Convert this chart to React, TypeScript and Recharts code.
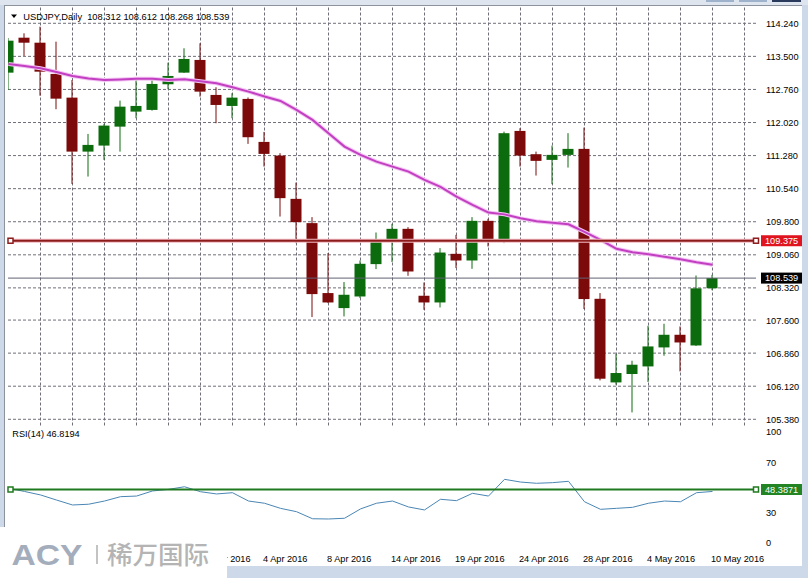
import React from "react";
import { ComposedChart, Bar, Line, XAxis, YAxis, ReferenceLine } from "recharts";

const FONT = "'Liberation Sans', Arial, sans-serif";
const BULL = "#0c6b0c";
const BEAR = "#7c0a0a";
const GRID = "#6f6f7a";

// daily bars, USDJPY
const dates = [
  "16 Mar 2016", "17 Mar 2016", "18 Mar 2016", "20 Mar 2016", "21 Mar 2016", "22 Mar 2016",
  "23 Mar 2016", "24 Mar 2016", "25 Mar 2016", "27 Mar 2016", "28 Mar 2016", "29 Mar 2016",
  "30 Mar 2016", "31 Mar 2016", "1 Apr 2016", "3 Apr 2016", "4 Apr 2016", "5 Apr 2016",
  "6 Apr 2016", "7 Apr 2016", "8 Apr 2016", "11 Apr 2016", "12 Apr 2016", "13 Apr 2016",
  "14 Apr 2016", "15 Apr 2016", "17 Apr 2016", "18 Apr 2016", "19 Apr 2016", "20 Apr 2016",
  "21 Apr 2016", "22 Apr 2016", "24 Apr 2016", "25 Apr 2016", "26 Apr 2016", "27 Apr 2016",
  "28 Apr 2016", "29 Apr 2016", "2 May 2016", "3 May 2016", "4 May 2016", "5 May 2016",
  "6 May 2016", "9 May 2016", "10 May 2016",
];

const open = [
  113.136, 113.918, 113.806, 113.107, 112.577, 111.369, 111.504, 111.928, 112.264, 112.302,
  112.876, 113.136, 113.42, 112.637, 112.391, 112.548, 111.586, 111.28, 110.312, 109.769,
  108.204, 107.868, 108.128, 108.852, 109.38, 109.641, 108.144, 107.994, 109.082, 108.933,
  109.82, 109.357, 111.832, 111.311, 111.184, 111.296, 111.43, 108.076, 106.205, 106.393,
  106.563, 106.988, 107.271, 107.032, 108.312,
];
const high = [
  113.911, 114.016, 114.164, 113.829, 112.972, 111.765, 111.989, 112.51, 113.01, 112.972,
  113.359, 113.681, 113.793, 112.809, 112.675, 112.58, 111.81, 111.334, 110.676, 109.903,
  109.098, 108.45, 108.933, 109.559, 109.753, 109.679, 108.441, 109.21, 109.507, 109.903,
  109.865, 111.816, 111.893, 111.369, 111.504, 111.781, 111.906, 108.204, 106.84, 106.69,
  107.473, 107.517, 107.457, 108.597, 108.612,
];
const low = [
  112.749, 113.509, 112.621, 112.317, 110.647, 110.811, 111.184, 111.369, 112.116, 112.286,
  112.764, 113.13, 112.599, 112.004, 112.116, 111.542, 111.034, 109.916, 109.322, 107.667,
  107.98, 107.681, 108.092, 108.74, 108.897, 108.591, 107.83, 107.882, 108.763, 108.747,
  109.246, 109.322, 111.034, 110.833, 110.641, 111.012, 107.846, 106.25, 106.154, 105.534,
  106.214, 106.802, 106.451, 107.02, 108.268,
];
const close = [
  113.851, 113.806, 113.158, 112.554, 111.369, 111.519, 111.951, 112.375, 112.391, 112.883,
  113.062, 113.442, 112.711, 112.413, 112.577, 111.691, 111.318, 110.328, 109.791, 108.181,
  107.994, 108.166, 108.859, 109.411, 109.641, 108.687, 107.994, 109.111, 108.933, 109.82,
  109.357, 111.781, 111.28, 111.162, 111.296, 111.43, 108.07, 106.288, 106.415, 106.601,
  107.01, 107.271, 107.099, 108.31, 108.539,
];

// moving average (magenta)
const maValues = [
  113.33, 113.285, 113.234, 113.151, 113.062, 113.006, 112.972, 112.984, 113.001, 113.001,
  112.972, 112.988, 112.943, 112.899, 112.809, 112.711, 112.603, 112.503, 112.302, 112.078,
  111.781, 111.481, 111.296, 111.146, 111.034, 110.922, 110.737, 110.58, 110.363, 110.178,
  110.006, 109.965, 109.876, 109.809, 109.775, 109.742, 109.574, 109.395, 109.194, 109.116,
  109.071, 109.015, 108.959, 108.892, 108.836,
];

// RSI(14)
const rsiValues = [
  49.4, 46.8, 44.0, 39.9, 35.9, 36.5, 39.1, 42.6, 43.1, 47.2,
  48.5, 50.6, 46.6, 44.8, 45.8, 39.1, 37.3, 33.2, 30.5, 24.8,
  24.6, 25.2, 32.7, 37.3, 39.1, 34.3, 31.9, 40.5, 39.4, 45.3,
  43.1, 56.6, 54.4, 53.4, 53.9, 55.0, 38.5, 32.4, 33.2, 34.0,
  37.3, 39.1, 38.5, 45.8, 46.82,
];

const priceTicks = [105.38, 106.12, 106.86, 107.6, 108.32, 109.06, 109.8, 110.54, 111.28, 112.02, 112.76, 113.5, 114.24];
const rsiTicks = [0, 30, 70, 100];
const rsiGridTicks = [0, 30, 70];
const dateTicks = [12, 16, 20, 24, 28, 32, 36, 40, 44];
const gridTicks = [2, 4, 6, 8, 10, 12, 14, 16, 18, 20, 22, 24, 26, 28, 30, 32, 34, 36, 38, 40, 42, 44, 46];

const resistanceLevel = 109.375;
const lastPrice = 108.539;
const rsiLevel = 48.3871;
const rsiLabel = "RSI(14) 46.8194";

const xDomain: [number, number] = [-0.03125, 46.71875];
const priceDomain: [number, number] = [105.241, 114.627];
const rsiDomain: [number, number] = [0, 100];

const data = dates.map((date, i) => ({
  i,
  date,
  open: open[i],
  high: high[i],
  low: low[i],
  close: close[i],
  range: [low[i], high[i]],
  ma: maValues[i],
  rsi: rsiValues[i],
}));

const Candle = (props: any) => {
  const { x, y, width, height, payload } = props;
  if (payload == null) return null;
  const top = Math.min(y, y + height);
  const h = Math.abs(height);
  const span = payload.high - payload.low || 1;
  const toY = (v: number) => top + ((payload.high - v) / span) * h;
  const up = payload.close >= payload.open;
  const color = up ? BULL : BEAR;
  const cx = x + width / 2;
  const bTop = toY(Math.max(payload.open, payload.close));
  const bBot = toY(Math.min(payload.open, payload.close));
  return (
    <g>
      <line x1={cx} x2={cx} y1={top} y2={top + h} stroke={color} strokeWidth={1} />
      <rect x={x} y={bTop} width={width} height={Math.max(1, bBot - bTop)} fill={color} />
    </g>
  );
};

const PriceTick = (props: any) => {
  const { x, y, payload } = props;
  return (
    <text x={x + 10} y={y + 3.6} fontSize={9.2} fontFamily={FONT} fill="#000">
      {Number(payload.value).toFixed(3)}
    </text>
  );
};

const RsiTick = (props: any) => {
  const { x, y, payload } = props;
  const v = payload.value;
  const shift = v === 100 ? 9.6 : v === 0 ? -3.4 : 3.2;
  return (
    <text x={x + 10} y={y + shift} fontSize={9.2} fontFamily={FONT} fill="#000">
      {v}
    </text>
  );
};

const DateTick = (props: any) => {
  const { x, y, payload } = props;
  return (
    <text x={x - 1.5} y={y + 12} fontSize={9.2} fontFamily={FONT} fill="#000">
      {dates[payload.value]}
    </text>
  );
};

const LevelTag = (props: any) => {
  const { viewBox, text, fill, marker } = props;
  if (!viewBox) return null;
  const { x, y, width } = viewBox;
  return (
    <g>
      {marker && <rect x={x} y={y - 2.5} width={5} height={5} fill="#fff" stroke={marker} strokeWidth={1.5} />}
      {marker && <rect x={x + width - 2.5} y={y - 2.5} width={5} height={5} fill="#fff" stroke={marker} strokeWidth={1.5} />}
      <rect x={x + width + 5} y={y - 5.5} width={41} height={11} fill={fill} />
      <text x={x + width + 9} y={y + 3.4} fontSize={9.2} fontFamily={FONT} fill="#fff">
        {text}
      </text>
    </g>
  );
};

const layer: React.CSSProperties = { position: "absolute", left: 0, top: 0 };
const mainMargin = { top: 6, right: 0, bottom: 152.5, left: 8 };
const rsiMargin = { top: 425.5, right: 0, bottom: 8.5, left: 8 };

export default function App() {
  const header = `USDJPY,Daily  ${open[44].toFixed(3)} ${high[44].toFixed(3)} ${low[44].toFixed(3)} ${close[44].toFixed(3)}`;
  return (
    <div style={{ position: "fixed", left: 0, top: 0, width: 808, height: 578, background: "#cdd8e8", overflow: "hidden" }}>
      <div style={{ position: "absolute", left: 0, top: 0, width: 808, height: 5, background: "#dfe5ee" }} />
      <div style={{ position: "absolute", left: 706, top: 0, width: 28, height: 2, background: "#9fb2cc" }} />
      <div style={{ position: "absolute", left: 739, top: 0, width: 28, height: 2, background: "#9fb2cc" }} />
      <div style={{ position: "absolute", left: 772, top: 0, width: 29, height: 2, background: "#2a3a5c" }} />
      <div
        style={{
          position: "absolute", left: 4, top: 5, width: 798, height: 561, background: "#fff",
          borderLeft: "1px solid #8d939c", borderTop: "1px solid #8d939c", boxSizing: "border-box",
        }}
      />

      {/* grid behind the price panel */}
      <div style={layer}>
        <ComposedChart width={808} height={578} data={data} margin={mainMargin}>
          <XAxis type="number" dataKey="i" domain={xDomain} hide allowDataOverflow />
          <YAxis orientation="right" type="number" domain={priceDomain} width={52} allowDataOverflow tick={false} axisLine={false} tickLine={false} />
          {priceTicks.map((t) => (
            <ReferenceLine key={`h${t}`} y={t} stroke={GRID} strokeDasharray="3 2" />
          ))}
          {gridTicks.map((t) => (
            <ReferenceLine key={`v${t}`} x={t} stroke={GRID} strokeDasharray="3 2" />
          ))}
        </ComposedChart>
      </div>

      {/* grid behind the RSI panel */}
      <div style={layer}>
        <ComposedChart width={808} height={578} data={data} margin={rsiMargin}>
          <XAxis type="number" dataKey="i" domain={xDomain} height={20} allowDataOverflow tick={false} axisLine={false} tickLine={false} />
          <YAxis orientation="right" type="number" domain={rsiDomain} width={52} tick={false} axisLine={false} tickLine={false} />
          {rsiGridTicks.map((t) => (
            <ReferenceLine key={`h${t}`} y={t} stroke={GRID} strokeDasharray="3 2" />
          ))}
          {gridTicks.map((t) => (
            <ReferenceLine key={`v${t}`} x={t} stroke={GRID} strokeDasharray="3 2" />
          ))}
        </ComposedChart>
      </div>

      {/* price panel */}
      <div style={layer}>
        <ComposedChart width={808} height={578} data={data} margin={mainMargin}>
          <XAxis type="number" dataKey="i" domain={xDomain} hide allowDataOverflow />
          <YAxis
            orientation="right" type="number" domain={priceDomain} ticks={priceTicks} width={52}
            allowDataOverflow axisLine={false} tickLine={false} tickSize={0} tickMargin={0} tick={<PriceTick />}
          />
          <Line dataKey="ma" stroke="#f3c4f3" strokeWidth={4} dot={false} isAnimationActive={false} />
          <Line dataKey="ma" stroke="#c23fc2" strokeWidth={2} dot={false} isAnimationActive={false} />
          <Bar dataKey="range" barSize={11} shape={<Candle />} isAnimationActive={false} />
          <ReferenceLine y={resistanceLevel} stroke="#f1b7bf" strokeWidth={4} />
          <ReferenceLine
            y={resistanceLevel} stroke="#8c1c1c" strokeWidth={2}
            label={<LevelTag text={resistanceLevel.toFixed(3)} fill="#e0141e" marker="#8c1c1c" />}
          />
          <ReferenceLine
            y={lastPrice} stroke="#626272" strokeWidth={1}
            label={<LevelTag text={lastPrice.toFixed(3)} fill="#000" />}
          />
        </ComposedChart>
      </div>

      {/* RSI panel */}
      <div style={layer}>
        <ComposedChart width={808} height={578} data={data} margin={rsiMargin}>
          <XAxis
            type="number" dataKey="i" domain={xDomain} ticks={dateTicks} height={20}
            allowDataOverflow axisLine={false} tickLine={false}
            tickSize={0} tickMargin={0} tick={<DateTick />}
          />
          <YAxis
            orientation="right" type="number" domain={rsiDomain} ticks={rsiTicks} width={52}
            axisLine={false} tickLine={false} tickSize={0} tickMargin={0} tick={<RsiTick />}
          />
          <Line dataKey="rsi" stroke="#4a86b4" strokeWidth={1} dot={false} isAnimationActive={false} />
          <ReferenceLine
            y={rsiLevel} stroke="#1f7a1f" strokeWidth={2}
            label={<LevelTag text={rsiLevel.toFixed(4)} fill="#228422" marker="#1f7a1f" />}
          />
        </ComposedChart>
      </div>

      {/* texts and watermark */}
      <svg width={808} height={578} style={layer}>
        <polygon points="11,14.5 17,14.5 14,18" fill="#000" />
        <text x={23.3} y={19.5} fontSize={9.3} fontFamily={FONT} fill="#000" style={{ whiteSpace: "pre" }}>
          {header}
        </text>
        <text x={12.3} y={436.6} fontSize={9.2} fontFamily={FONT} fill="#000">
          {rsiLabel}
        </text>
        <rect x={0} y={527} width={227} height={51} fill="#fff" />
        <text
          x={0} y={0} transform="translate(11.5,565) scale(1.12,1)" fontSize={30} fontWeight={900}
          fontFamily={FONT} fill="#a4adbc"
        >
          ACY
        </text>
        <line x1={97} x2={97} y1={545} y2={564} stroke="#c3c3c3" strokeWidth={2} />
        <text x={107} y={564} fontSize={25.5} fontFamily="'Noto Sans CJK SC', sans-serif" fontWeight={500} fill="#b4b4b4">
          稀万国际
        </text>
      </svg>
    </div>
  );
}
